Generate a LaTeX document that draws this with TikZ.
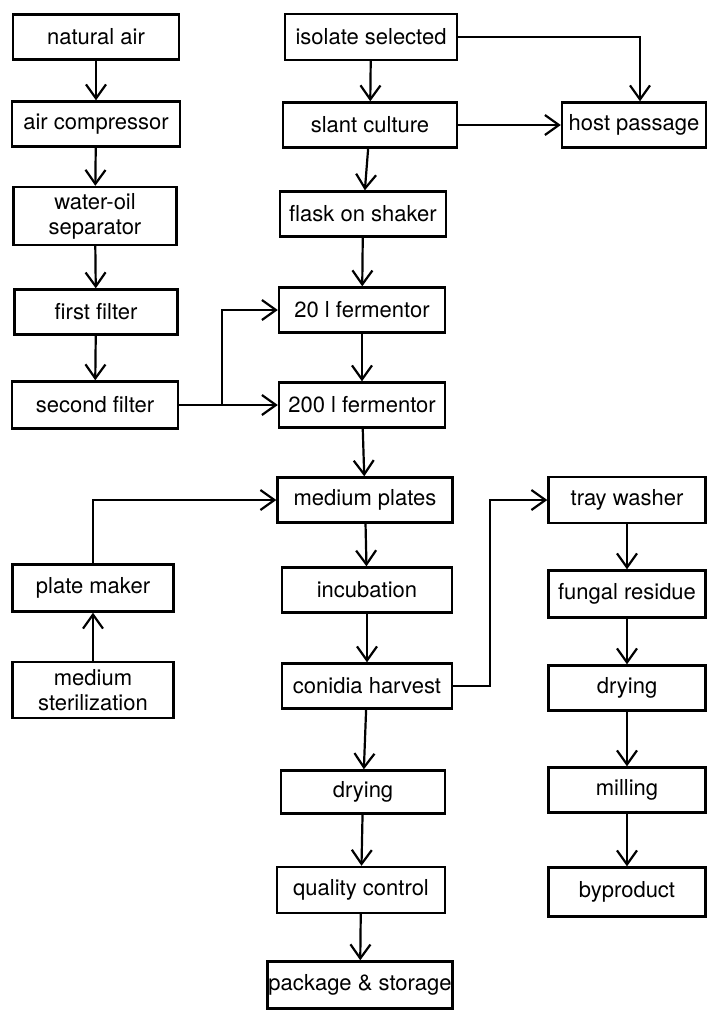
\documentclass[tikz,border=0pt]{standalone}
\usepackage{fontspec}
\setmainfont{TeX Gyre Heros}
\usetikzlibrary{arrows.meta,positioning,calc}

\begin{document}
\begin{tikzpicture}[x=1pt, y=-1pt, font=\fontsize{22}{25}\selectfont,
    box/.style={draw, line width=2.4pt, inner sep=0pt, align=center,
      minimum height=45pt},
    flow/.style={line width=2.2pt, -{Straight Barb[length=14pt, width=20pt]}}]
    \useasboundingbox (0,0) rectangle (707,1010);

    % air supply
    \node[box, minimum width=166pt] (air) at (96,37) {natural air};
    \node[box, minimum width=168pt] (compressor) at (96,124) {air compressor};
    \node[box, minimum width=163pt, minimum height=58pt] (separator) at (95,216)
      {water-oil\\separator};
    \node[box, minimum width=163pt] (filterA) at (96,312) {first filter};
    \node[box, minimum width=166pt, minimum height=47pt] (filterB) at (95,405)
      {second filter};

    % medium
    \node[box, minimum width=161pt, minimum height=47pt] (platemaker) at (93,588)
      {plate maker};
    \node[box, minimum width=161pt, minimum height=56pt] (sterile) at (93,690)
      {medium\\sterilization};

    % main line
    \node[box, minimum width=172pt, minimum height=46pt] (isolate) at (371,37)
      {isolate selected};
    \node[box, minimum width=174pt] (slant) at (370,125) {slant culture};
    \node[box, minimum width=166pt] (flask) at (363,214) {flask on shaker};
    \node[box, minimum width=166pt] (ferm20) at (362,310) {20 l fermentor};
    \node[box, minimum width=166pt] (ferm200) at (362,405) {200 l fermentor};
    \node[box, minimum width=175pt] (plates) at (365,500) {medium plates};
    \node[box, minimum width=170pt] (incub) at (367,590) {incubation};
    \node[box, minimum width=170pt] (harvest) at (367,686) {conidia harvest};
    \node[box, minimum width=164pt, minimum height=43pt] (dryA) at (363,792) {drying};
    \node[box, minimum width=168pt, minimum height=46pt] (quality) at (361,890)
      {quality control};
    \node[box, minimum width=185pt, minimum height=47pt] (package) at (360,985)
      {package \& storage};

    % residue line
    \node[box, minimum width=144pt] (host) at (634,125) {host passage};
    \node[box, minimum width=157pt, minimum height=46pt] (washer) at (627,500)
      {tray washer};
    \node[box, minimum width=157pt, minimum height=47pt] (residue) at (627,594)
      {fungal residue};
    \node[box, minimum width=157pt] (dryB) at (627,688) {drying};
    \node[box, minimum width=157pt] (milling) at (627,790) {milling};
    \node[box, minimum width=157pt, minimum height=49pt] (byproduct) at (627,892)
      {byproduct};

    \draw[flow] (air) -- (compressor);
    \draw[flow] (compressor) -- (separator);
    \draw[flow] (separator) -- (filterA);
    \draw[flow] (filterA) -- (filterB);

    \draw[flow] (isolate) -- (slant);
    \draw[flow] (slant) -- (flask);
    \draw[flow] (flask) -- (ferm20);
    \draw[flow] (ferm20) -- (ferm200);
    \draw[flow] (ferm200) -- (plates);
    \draw[flow] (plates) -- (incub);
    \draw[flow] (incub) -- (harvest);
    \draw[flow] (harvest) -- (dryA);
    \draw[flow] (dryA) -- (quality);
    \draw[flow] (quality) -- (package);

    \draw[flow] (isolate.east) -| ([xshift=6pt]host.north);
    \draw[flow] (slant.east) -- (host.west);

    \coordinate (split) at (222,405);
    \draw[flow] (filterB.east) -- (ferm200.west);
    \draw[flow] (split) |- (ferm20.west);

    \draw[flow] (sterile) -- (platemaker);
    \draw[flow] (platemaker.north) |- (plates.west);

    \draw[flow] (harvest.east) -- ++(37,0) |- (washer.west);
    \draw[flow] (washer) -- (residue);
    \draw[flow] (residue) -- (dryB);
    \draw[flow] (dryB) -- (milling);
    \draw[flow] (milling) -- (byproduct);
\end{tikzpicture}
\end{document}
